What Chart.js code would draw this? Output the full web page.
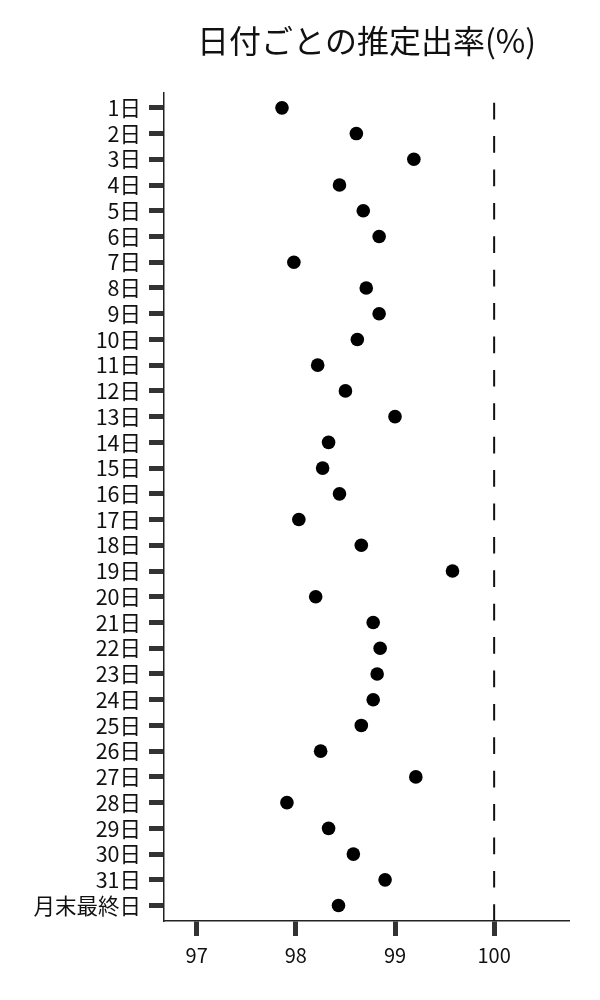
<!DOCTYPE html>
<html>
<head>
<meta charset="utf-8">
<script src="https://cdn.jsdelivr.net/npm/chart.js@4"></script>
<style>
  html, body { margin: 0; padding: 0; background: #fff; }
  #wrap { width: 600px; height: 1000px; }
</style>
</head>
<body>
<div id="wrap"><canvas id="c" width="600" height="1000"></canvas></div>
<script>
const title = '日付ごとの推定出率(%)';
const categories = ['1日','2日','3日','4日','5日','6日','7日','8日','9日','10日',
  '11日','12日','13日','14日','15日','16日','17日','18日','19日','20日',
  '21日','22日','23日','24日','25日','26日','27日','28日','29日','30日','31日','月末最終日'];
const rates = [97.86, 98.61, 99.19, 98.44, 98.68, 98.84, 97.98, 98.71, 98.84, 98.62,
  98.22, 98.50, 99.00, 98.33, 98.27, 98.44, 98.03, 98.66, 99.58, 98.20,
  98.78, 98.85, 98.82, 98.78, 98.66, 98.25, 99.21, 97.91, 98.33, 98.58, 98.90, 98.43];
const xTicks = [97, 98, 99, 100];
const refValue = 100;
const xMin = 96.67, xMax = 100.755;
const yMin = -0.6, yMax = categories.length - 1 + 0.6;

const FONT = '"Noto Sans CJK JP", "Noto Sans", sans-serif';

new Chart(document.getElementById('c'), {
  type: 'scatter',
  data: {
    datasets: [
      {
        data: rates.map((v, i) => ({ x: v, y: i })),
        backgroundColor: '#000',
        borderWidth: 0,
        pointRadius: 6.8,
        pointHoverRadius: 6.8
      },
      {
        type: 'line',
        data: [{ x: refValue, y: yMax }, { x: refValue, y: yMin }],
        borderColor: '#111',
        borderWidth: 2,
        borderDash: [16.7, 16.7],
        pointRadius: 0,
        fill: false
      }
    ]
  },
  options: {
    responsive: false,
    animation: false,
    devicePixelRatio: 1,
    layout: { padding: { left: 0, right: 31, top: 0, bottom: 0 } },
    plugins: {
      legend: { display: false },
      tooltip: { enabled: false },
      title: {
        display: true,
        text: title,
        fullSize: false,
        color: '#111',
        font: { family: FONT, size: 32, weight: 'normal' },
        padding: { top: 22, bottom: 32 }
      }
    },
    scales: {
      x: {
        type: 'linear',
        min: xMin,
        max: xMax,
        afterBuildTicks: s => { s.ticks = xTicks.map(v => ({ value: v })); },
        afterFit: s => { s.height = 79; },
        grid: { drawOnChartArea: false, drawTicks: true, tickLength: 15, tickWidth: 5, tickColor: '#333' },
        border: { display: true, color: '#222', width: 1.5 },
        ticks: { color: '#111', font: { family: FONT, size: 20 }, padding: 7, maxRotation: 0 }
      },
      y: {
        type: 'linear',
        reverse: true,
        min: yMin,
        max: yMax,
        afterBuildTicks: s => { s.ticks = categories.map((c, i) => ({ value: i })); },
        afterFit: s => { s.width = 164; },
        grid: { drawOnChartArea: false, drawTicks: true, tickLength: 15, tickWidth: 5, tickColor: '#333' },
        border: { display: true, color: '#222', width: 1.5 },
        ticks: {
          color: '#111',
          font: { family: FONT, size: 21.5 },
          padding: 8,
          autoSkip: false,
          callback: v => categories[v]
        }
      }
    }
  }
});
</script>
</body>
</html>
